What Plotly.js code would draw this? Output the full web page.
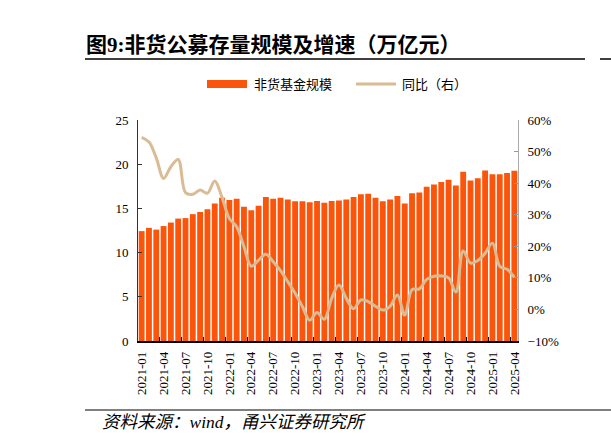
<!DOCTYPE html>
<html>
<head>
<meta charset="utf-8">
<script src="https://cdn.plot.ly/plotly-3.0.1.min.js"></script>
<style>html,body{margin:0;padding:0;background:#fff;}#chart{width:611px;height:443px;}</style>
</head>
<body>
<div id="chart"></div>
<script>
const months = ["2021-01","2021-02","2021-03","2021-04","2021-05","2021-06","2021-07","2021-08","2021-09","2021-10","2021-11","2021-12",
"2022-01","2022-02","2022-03","2022-04","2022-05","2022-06","2022-07","2022-08","2022-09","2022-10","2022-11","2022-12",
"2023-01","2023-02","2023-03","2023-04","2023-05","2023-06","2023-07","2023-08","2023-09","2023-10","2023-11","2023-12",
"2024-01","2024-02","2024-03","2024-04","2024-05","2024-06","2024-07","2024-08","2024-09","2024-10","2024-11","2024-12",
"2025-01","2025-02","2025-03","2025-04"];
const fundScale = [12.43,12.8,12.6,13.0,13.4,13.85,13.9,14.35,14.6,14.9,15.55,16.2,
15.95,16.1,15.2,14.8,15.3,16.3,16.1,16.2,16.0,15.8,15.8,15.7,
15.85,15.65,15.85,15.9,16.0,16.3,16.6,16.65,16.2,15.8,16.0,16.4,
15.55,16.7,16.8,17.45,17.7,18.0,18.25,17.6,19.15,18.15,18.4,19.3,
18.85,18.85,19.0,19.25];
const yoy = [54.5,53,48,41.5,45.2,47.5,37,36.5,37.8,36.8,40.7,35.5,
28.8,26.2,19.9,13.7,15.6,17.5,15.1,12.3,8.8,5.1,0.9,-3.4,
-1.0,-3.1,3.5,7.7,3.5,0.2,3.0,2.5,1.0,-0.2,1.0,4.6,
-1.8,6.3,6.5,9.5,10.5,10.6,10.0,5.5,18.5,14.7,15.5,17.8,
21.0,13.7,12.7,10.2];
const seriesNames = ["非货基金规模","同比（右）"];
const titleText = "图9:非货公募存量规模及增速（万亿元）";
const sourceText = "资料来源：wind，甬兴证券研究所";

const barColor = "#FA550A";
const lineColor = "#D9BC93";
const serif = "Liberation Serif, Noto Sans CJK SC, serif";
const cjk = "Noto Sans CJK SC, sans-serif";

// plot area in px: x 138..518, y 120..341
const L = 138, R = 518, T = 120, B = 341;
const px = x => (x - L) / (R - L);
const py = y => (B - y) / (B - T);

const traces = [
  {type:"bar", x:months, y:fundScale, name:seriesNames[0], marker:{color:barColor, line:{width:0}}, showlegend:false},
  {type:"scatter", mode:"lines", x:months, y:yoy, yaxis:"y2", name:seriesNames[1],
   line:{color:lineColor, width:3, shape:"spline", smoothing:1}, showlegend:false}
];

const layout = {
  width:611, height:443,
  margin:{l:L, r:611-R, t:T, b:443-B, pad:0},
  paper_bgcolor:"#fff", plot_bgcolor:"#fff",
  bargap:0.2,
  font:{family:serif, size:13, color:"#000"},
  xaxis:{type:"category", tickmode:"linear", tick0:0, dtick:3, tickson:"boundaries",
    ticks:"inside", ticklen:4, tickcolor:"#000", tickwidth:1,
    showline:true, linecolor:"#000", linewidth:1.5, showgrid:false, zeroline:false,
    tickangle:-90, tickfont:{family:serif, size:13, color:"#000"}, ticklabelstandoff:4},
  yaxis:{range:[0,25], dtick:5, ticks:"inside", ticklen:4, tickcolor:"#333",
    showline:true, linecolor:"#333", linewidth:1, showgrid:false, zeroline:false,
    tickfont:{family:serif, size:13, color:"#000"}, ticklabelstandoff:6},
  yaxis2:{overlaying:"y", side:"right", range:[-10,60], dtick:10, ticksuffix:"%",
    ticks:"inside", ticklen:4, tickcolor:"#999",
    showline:true, linecolor:"#aaa", linewidth:1, showgrid:false, zeroline:false,
    tickfont:{family:serif, size:13, color:"#000"}, ticklabelstandoff:6},
  shapes:[
    {type:"line", xref:"paper", yref:"paper", x0:px(85), x1:px(585), y0:py(59), y1:py(59), line:{color:"#000", width:1.5}},
    {type:"line", xref:"paper", yref:"paper", x0:px(600), x1:px(611), y0:py(59), y1:py(59), line:{color:"#000", width:1.5}},
    {type:"line", xref:"paper", yref:"paper", x0:px(85), x1:px(611), y0:py(410), y1:py(410), line:{color:"#000", width:1}},
    {type:"rect", xref:"paper", yref:"paper", x0:px(207), x1:px(247), y0:py(80), y1:py(88), fillcolor:barColor, line:{width:0}},
    {type:"line", xref:"paper", yref:"paper", x0:px(356), x1:px(396), y0:py(84), y1:py(84), line:{color:lineColor, width:3}}
  ],
  annotations:[
    {xref:"paper", yref:"paper", x:px(84), y:py(45), xanchor:"left", yanchor:"middle", showarrow:false,
     text:"<b>"+titleText+"</b>", font:{family:serif, size:21, color:"#000"}},
    {xref:"paper", yref:"paper", x:px(252), y:py(84), xanchor:"left", yanchor:"middle", showarrow:false,
     text:seriesNames[0], font:{family:cjk, size:13, color:"#000"}},
    {xref:"paper", yref:"paper", x:px(400), y:py(84), xanchor:"left", yanchor:"middle", showarrow:false,
     text:seriesNames[1], font:{family:cjk, size:13, color:"#000"}},
    {xref:"paper", yref:"paper", x:px(100), y:py(422), xanchor:"left", yanchor:"middle", showarrow:false,
     text:"<i>"+sourceText+"</i>", font:{family:serif, size:17.5, color:"#000"}}
  ]
};

Plotly.newPlot("chart", traces, layout, {displayModeBar:false, staticPlot:true});
</script>
</body>
</html>
